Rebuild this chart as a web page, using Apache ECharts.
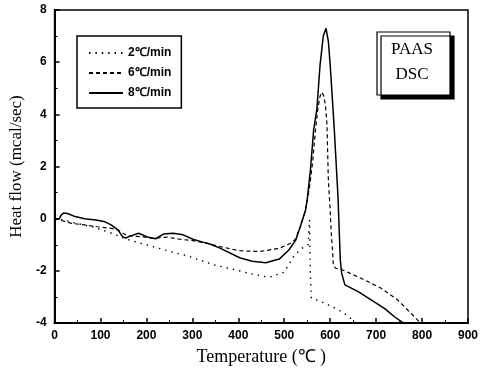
<!DOCTYPE html>
<html>
<head>
<meta charset="utf-8">
<script src="https://cdn.jsdelivr.net/npm/echarts@6/dist/echarts.min.js"></script>
<style>
  html, body { margin: 0; padding: 0; background: #fff; }
  #chart { width: 481px; height: 374px; }
</style>
</head>
<body>
<div id="chart"></div>
<script>
// heating rate curves, [temperature (C), heat flow (mcal/sec)]
var rate2 = [
  [0, 0], [20, -0.05], [40, -0.15], [80, -0.3], [123, -0.55], [150, -0.75],
  [187, -0.94], [220, -1.1], [250, -1.25], [288, -1.42], [318, -1.6],
  [349, -1.78], [396, -1.97], [424, -2.1], [467, -2.25], [500, -2.05],
  [522, -1.4], [540, -1.12], [552, -1.0], [555, -0.05], [557, -2.2],
  [559, -3.05], [575, -3.14], [604, -3.37], [625, -3.57], [640, -3.75], [655, -4.0]
];
var rate6 = [
  [0, 0], [37, -0.18], [65, -0.24], [94, -0.31], [123, -0.37], [137, -0.43],
  [159, -0.66], [187, -0.69], [215, -0.75], [245, -0.71], [273, -0.79],
  [301, -0.84], [331, -0.94], [360, -1.07], [403, -1.23], [446, -1.26],
  [489, -1.14], [514, -0.94], [525, -0.78], [535, -0.3], [546, 0.3],
  [555, 1.2], [562, 2.2], [568, 3.4], [573, 4.2], [578, 4.7], [582, 4.85],
  [586, 4.7], [590, 4.3], [593, 3.6], [596, 1.5], [600, 0.3], [602, -0.43],
  [605, -1.2], [607, -1.8], [612, -1.9], [625, -1.95], [640, -2.07],
  [675, -2.35], [711, -2.67], [747, -3.12], [776, -3.63], [790, -3.88], [797, -4.0]
];
var rate8 = [
  [0, 0], [10, 0.0], [15, 0.15], [20, 0.22], [28, 0.2], [45, 0.08], [65, 0.0],
  [90, -0.05], [110, -0.12], [123, -0.24], [138, -0.43], [148, -0.69],
  [155, -0.74], [166, -0.66], [183, -0.56], [202, -0.7], [220, -0.77],
  [237, -0.59], [258, -0.56], [280, -0.62], [301, -0.79], [323, -0.9],
  [338, -0.97], [360, -1.13], [403, -1.5], [430, -1.63], [460, -1.69],
  [489, -1.55], [510, -1.2], [525, -0.82], [535, -0.3], [546, 0.3],
  [550, 0.72], [557, 1.87], [564, 3.4], [571, 4.2], [578, 5.9], [585, 7.0],
  [591, 7.3], [596, 6.8], [600, 5.9], [607, 3.98], [609, 3.4], [617, 0.84],
  [622, -1.58], [625, -2.09], [632, -2.54], [661, -2.8], [690, -3.12],
  [718, -3.44], [740, -3.76], [755, -3.95], [760, -4.0]
];
var seriesNames = ['2\u2103/min', '6\u2103/min', '8\u2103/min'];

var chart = echarts.init(document.getElementById('chart'));
var tickFont = { fontFamily: 'Liberation Sans', fontWeight: 'bold', fontSize: 12, color: '#000' };

chart.setOption({
  animation: false,
  backgroundColor: '#fff',
  grid: {
    left: 53, right: 10, top: 10, bottom: 51,
    show: true, borderColor: '#000', borderWidth: 1.5, backgroundColor: 'transparent'
  },
  legend: {
    left: 77, top: 36,
    orient: 'vertical',
    data: seriesNames,
    itemWidth: 34, itemHeight: 12, itemGap: 8,
    padding: [11, 10, 9, 11],
    borderColor: '#000', borderWidth: 1.5,
    itemStyle: { opacity: 0 },
    textStyle: { fontFamily: 'Liberation Sans', fontWeight: 'bold', fontSize: 12, color: '#000' }
  },
  xAxis: {
    type: 'value', min: 0, max: 900, interval: 100,
    name: 'Temperature (\u2103 )', nameLocation: 'middle', nameGap: 25,
    nameTextStyle: { fontFamily: 'Liberation Serif', fontSize: 18, color: '#000' },
    axisLine: { onZero: false, lineStyle: { color: '#000', width: 2 } },
    axisTick: { inside: true, length: 5, lineStyle: { color: '#000', width: 1.5 } },
    minorTick: { show: true, splitNumber: 2, length: 3, lineStyle: { color: '#000' } },
    splitLine: { show: false },
    axisLabel: Object.assign({ margin: 7 }, tickFont)
  },
  yAxis: {
    type: 'value', min: -4, max: 8, interval: 2,
    name: 'Heat flow (mcal/sec)', nameLocation: 'middle', nameGap: 27,
    nameTextStyle: { fontFamily: 'Liberation Serif', fontSize: 17, color: '#000' },
    axisLine: { onZero: false, lineStyle: { color: '#000', width: 2 } },
    axisTick: { inside: true, length: 5, lineStyle: { color: '#000', width: 1.5 } },
    minorTick: { show: true, splitNumber: 2, length: 3, lineStyle: { color: '#000' } },
    splitLine: { show: false },
    axisLabel: Object.assign({ margin: 8 }, tickFont)
  },
  graphic: [
    {
      type: 'rect', x: 377, y: 32,
      shape: { width: 73, height: 63 },
      style: { fill: '#fff', stroke: '#000', lineWidth: 1.2, shadowColor: '#000', shadowOffsetX: 4, shadowOffsetY: 4, shadowBlur: 0 }
    },
    {
      type: 'text', x: 412, y: 50,
      style: { text: 'PAAS', textAlign: 'center', textVerticalAlign: 'middle', font: '17px "Liberation Serif"', fill: '#000' }
    },
    {
      type: 'text', x: 412, y: 75,
      style: { text: 'DSC', textAlign: 'center', textVerticalAlign: 'middle', font: '17px "Liberation Serif"', fill: '#000' }
    }
  ],
  series: [
    {
      name: seriesNames[0], type: 'line', data: rate2, showSymbol: false,
      lineStyle: { color: '#000', width: 1.4, type: [1.4, 5] }, itemStyle: { color: '#000' }
    },
    {
      name: seriesNames[1], type: 'line', data: rate6, showSymbol: false,
      lineStyle: { color: '#000', width: 1.2, type: [4, 3] }, itemStyle: { color: '#000' }
    },
    {
      name: seriesNames[2], type: 'line', data: rate8, showSymbol: false,
      lineStyle: { color: '#000', width: 1.5, type: 'solid' }, itemStyle: { color: '#000' }
    }
  ]
});
</script>
</body>
</html>
